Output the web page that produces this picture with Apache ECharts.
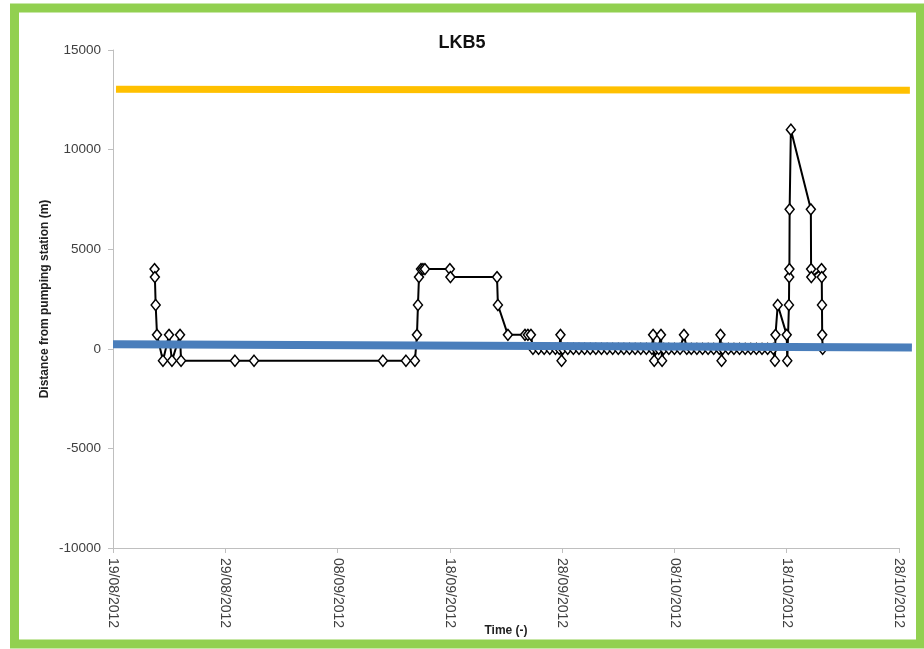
<!DOCTYPE html>
<html>
<head>
<meta charset="utf-8">
<title>LKB5</title>
<script src="https://cdn.jsdelivr.net/npm/echarts@6/dist/echarts.min.js"></script>
<style>
  html, body { margin: 0; padding: 0; background: #ffffff; }
  #chart { width: 924px; height: 649px; }
</style>
</head>
<body>
<div id="chart"></div>
<script>
// Tag LKB5: distance from the pumping station over time.
// Time is stored as elapsed days since 19/08/2012.
const xTickLabels = ['19/08/2012', '29/08/2012', '08/09/2012', '18/09/2012',
  '28/09/2012', '08/10/2012', '18/10/2012', '28/10/2012'];
const yTicks = [-10000, -5000, 0, 5000, 10000, 15000];

const elapsedDays = [
  3.70, 3.73, 3.80, 3.92, 4.45, 4.99, 5.25, 5.97, 6.06,
  10.86, 12.56, 24.04, 26.09, 26.89,
  27.07, 27.16, 27.25, 27.43, 27.60, 27.78, 30.00, 30.05,
  34.20, 34.28, 35.17, 36.69, 36.95, 37.22,
  37.40, 37.90, 38.40, 38.90, 39.40, 39.75, 39.85, 39.95, 40.05,
  40.50, 41.00, 41.50, 42.00, 42.50, 43.00, 43.50, 44.00, 44.50,
  45.00, 45.50, 46.00, 46.50, 47.00, 47.50, 48.00, 48.10, 48.20,
  48.35, 48.60, 48.80, 48.90, 49.05, 49.50, 50.00, 50.50, 50.85,
  51.10, 51.50, 52.00, 52.50, 53.00, 53.50, 54.00, 54.10, 54.20,
  54.30, 54.80, 55.30, 55.80, 56.30, 56.80, 57.30, 57.80, 58.30,
  58.80, 58.95, 59.00, 59.20, 60.00, 60.05, 60.20, 60.22, 60.24,
  60.26, 60.37, 62.15, 62.17, 62.19, 63.10, 63.12, 63.14, 63.16, 63.20
];
const distance = [
  4000, 3600, 2200, 700, -600, 700, -600, 700, -600,
  -600, -600, -600, -600, -600,
  700, 2200, 3600, 4000, 4000, 4000, 4000, 3600,
  3600, 2200, 700, 700, 700, 700,
  0, 0, 0, 0, 0, 0, 700, -600, 0,
  0, 0, 0, 0, 0, 0, 0, 0, 0,
  0, 0, 0, 0, 0, 0, 0, 700, -600,
  0, 0, 700, -600, 0, 0, 0, 0, 700,
  0, 0, 0, 0, 0, 0, 0, 700, -600,
  0, 0, 0, 0, 0, 0, 0, 0, 0,
  0, -600, 700, 2200, 700, -600, 2200, 3600, 4000,
  7000, 11000, 7000, 4000, 3600, 4000, 3600, 2200, 700, 0
];

// Reference lines drawn across the whole period (they run slightly past the last date)
const upperLineDays = [0.27, 70.97];
const upperLineValues = [13030, 12980];
const baseLineDays = [0, 71.15];
const baseLineValues = [230, 60];

const zip = (a, b) => a.map((v, i) => [v, b[i]]);

const font = 'Liberation Sans, Arial, sans-serif';
const plotLeft = 113, plotTop = 50, plotBottom = 101;
const mainRight = 25;         // main axis ends on 28/10/2012
const overlayRight = 12;      // overlay grid is wider so the reference lines overrun the axis
const mainDays = 70;
const pxPerDay = (924 - plotLeft - mainRight) / mainDays;
const overlayDays = (924 - plotLeft - overlayRight) / pxPerDay;

const chart = echarts.init(document.getElementById('chart'), null, { renderer: 'canvas' });

chart.setOption({
  backgroundColor: '#ffffff',
  animation: false,
  title: {
    text: 'LKB5',
    left: 'center',
    top: 29,
    textStyle: { fontFamily: font, fontSize: 18, fontWeight: 'bold', color: '#111111' }
  },
  graphic: [{
    type: 'rect',
    shape: { x: 14.5, y: 8, width: 906, height: 636 },
    style: { fill: 'none', stroke: '#92d050', lineWidth: 9 },
    silent: true,
    z: 100
  }],
  grid: [
    { left: plotLeft, right: mainRight, top: plotTop, bottom: plotBottom, containLabel: false },
    { left: plotLeft, right: overlayRight, top: plotTop, bottom: plotBottom, containLabel: false }
  ],
  xAxis: [
    {
      gridIndex: 0,
      type: 'value',
      min: 0,
      max: mainDays,
      interval: 10,
      name: 'Time (-)',
      nameLocation: 'middle',
      nameGap: 77,
      nameMoveOverlap: false,
      nameTextStyle: { fontFamily: font, fontSize: 12, fontWeight: 'bold', color: '#222222' },
      axisLine: { onZero: false, lineStyle: { color: '#bfbfbf', width: 1 } },
      axisTick: { show: true, length: 5, lineStyle: { color: '#bfbfbf' } },
      axisLabel: {
        rotate: -90,
        margin: 10,
        fontFamily: font,
        fontSize: 14,
        color: '#404040',
        formatter: v => xTickLabels[Math.round(v / 10)] || ''
      },
      splitLine: { show: false }
    },
    {
      gridIndex: 1,
      type: 'value',
      min: 0,
      max: overlayDays,
      show: false,
      splitLine: { show: false }
    }
  ],
  yAxis: [
    {
      gridIndex: 0,
      type: 'value',
      min: yTicks[0],
      max: yTicks[yTicks.length - 1],
      interval: 5000,
      name: 'Distance from pumping station (m)',
      nameLocation: 'middle',
      nameGap: 62,
      nameMoveOverlap: false,
      nameRotate: 90,
      nameTextStyle: { fontFamily: font, fontSize: 12, fontWeight: 'bold', color: '#222222' },
      axisLine: { show: true, lineStyle: { color: '#bfbfbf', width: 1 } },
      axisTick: { show: true, length: 5, lineStyle: { color: '#bfbfbf' } },
      axisLabel: {
        margin: 12,
        fontFamily: font,
        fontSize: 13.5,
        color: '#404040',
        formatter: v => String(v)
      },
      splitLine: { show: false }
    },
    {
      gridIndex: 1,
      type: 'value',
      min: yTicks[0],
      max: yTicks[yTicks.length - 1],
      show: false,
      splitLine: { show: false }
    }
  ],
  series: [
    {
      name: 'LKB5',
      type: 'line',
      xAxisIndex: 0,
      yAxisIndex: 0,
      data: zip(elapsedDays, distance),
      symbol: 'diamond',
      symbolSize: [9, 11],
      showAllSymbol: true,
      lineStyle: { color: '#000000', width: 2 },
      itemStyle: { color: '#ffffff', borderColor: '#000000', borderWidth: 1.5 },
      z: 2
    },
    {
      name: 'upper',
      type: 'line',
      xAxisIndex: 1,
      yAxisIndex: 1,
      data: zip(upperLineDays, upperLineValues),
      symbol: 'none',
      lineStyle: { color: '#ffc000', width: 7, cap: 'butt' },
      z: 5
    },
    {
      name: 'base',
      type: 'line',
      xAxisIndex: 1,
      yAxisIndex: 1,
      data: zip(baseLineDays, baseLineValues),
      symbol: 'none',
      lineStyle: { color: '#4a7ebb', width: 8, cap: 'butt' },
      z: 5
    }
  ]
});
</script>
</body>
</html>
